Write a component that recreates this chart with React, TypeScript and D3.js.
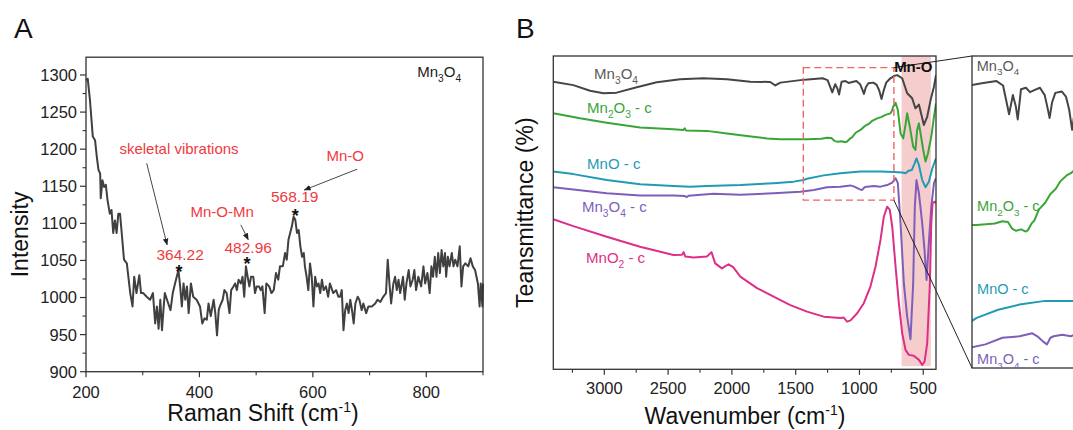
import React from "react";
import * as d3 from "d3";

// ---------- Panel A data: Raman spectrum of Mn3O4 ----------
const ramanSpectrum: [number, number][] = [
  [200,1293],[203,1295],[207,1266],[212,1217],[216,1212],[219,1190],[222,1172],[225,1167],[226,1134],[229,1158],
  [232,1149],[235,1152],[238,1131],[242,1113],[245,1118],[248,1087],[251,1104],[254,1087],[257,1113],[260,1113],
  [263,1087],[267,1051],[272,1046],[278,1006],[282,988],[285,1028],[289,1006],[294,1030],[297,1006],[301,1006],
  [307,1001],[313,997],[318,1006],[322,965],[325,988],[328,958],[331,997],[334,956],[337,988],[339,1006],
  [345,992],[349,983],[353,1006],[357,1019],[363,1037],[366,1015],[369,988],[372,1019],[375,997],[378,1015],
  [381,979],[385,1019],[389,1001],[395,997],[401,988],[405,965],[409,972],[413,970],[416,992],[420,975],
  [425,997],[428,979],[431,949],[434,983],[436,988],[441,997],[444,1010],[448,1006],[453,979],[456,1010],
  [460,1015],[463,1019],[466,1010],[469,1024],[473,1019],[476,1028],[479,1001],[482,1042],[485,1028],[488,1015],
  [491,1028],[495,1028],[498,1006],[501,1015],[505,1015],[508,1010],[511,1015],[515,979],[518,1019],[523,1015],
  [527,1006],[531,1010],[535,1033],[539,1024],[542,1042],[547,1042],[551,1060],[554,1051],[557,1078],[560,1087],
  [563,1096],[566,1109],[569,1105],[572,1087],[575,1091],[578,1069],[581,1055],[584,1060],[586,1042],[589,1028],
  [592,1010],[595,1046],[598,1028],[601,988],[604,1028],[607,1015],[610,1019],[613,1006],[616,1024],[619,1010],
  [623,1015],[627,1001],[630,1019],[636,1006],[641,1010],[645,1001],[648,1001],[651,1010],[654,956],[657,983],
  [660,992],[663,979],[666,997],[669,983],[672,965],[675,992],[679,1001],[682,997],[686,983],[689,992],
  [694,979],[698,988],[704,988],[710,992],[714,997],[719,994],[724,1001],[729,1006],[732,1051],[735,1019],
  [738,992],[742,1019],[745,1028],[748,1010],[751,1024],[754,1006],[759,1028],[762,997],[765,1019],[769,1037],
  [772,1015],[776,1024],[779,1037],[782,1010],[786,1028],[791,1015],[795,1042],[798,1019],[802,1033],[806,1006],
  [809,1042],[812,1028],[815,1055],[818,1028],[821,1060],[824,1033],[827,1064],[830,1042],[833,1060],[835,1028],
  [838,1055],[841,1042],[845,1060],[848,1042],[851,1051],[855,1042],[859,1069],[862,1015],[865,1042],[869,1046],
  [874,1042],[878,1053],[882,1042],[886,1037],[891,1019],[894,988],[896,1019],[899,988],[900,1019],
];
const ramanXTicks = [200, 400, 600, 800];
const ramanXMinor = [300, 500, 700];
const ramanYTicks = [900, 950, 1000, 1050, 1100, 1150, 1200, 1250, 1300];
const ramanYMinor = [925, 975, 1025, 1075, 1125, 1175, 1225, 1275];

// annotations: [label, x, y(baseline)]
const ramanPeaks: [string, number, number][] = [
  ["364.22", 366, 1051],
  ["482.96", 486, 1060],
  ["568.19", 568, 1129],
];
const ramanStars: [number, number][] = [[364, 1040], [484, 1050], [569, 1115]];
const ramanNotes: [string, number, number][] = [
  ["skeletal vibrations", 364, 1194],
  ["Mn-O-Mn", 440, 1108],
  ["Mn-O", 657, 1184],
];
const ramanArrows: [number, number, number, number][] = [
  [307, 1181, 343, 1071],
  [473, 1098, 486, 1078],
  [678, 1173, 585, 1145],
];

// ---------- Panel B data: FTIR spectra (wavenumber, transmittance a.u.) ----------
const ftirMn3O4: [number, number][] = [
  [3400,91.8],[3243,90.7],[3112,88.9],[3007,88.1],[2903,88.3],[2746,90.0],[2589,91.6],[2405,92.6],[2222,92.9],
  [2039,92.6],[1856,91.8],[1699,91.7],[1660,90.6],[1620,91.5],[1463,92.3],[1380,92.6],[1290,92.9],[1250,92.3],
  [1228,90.0],[1213,88.4],[1190,91.0],[1172,89.5],[1160,87.7],[1140,91.8],[1110,92.0],[1085,91.4],[1055,91.7],
  [1024,92.0],[995,91.0],[975,89.0],[965,87.9],[950,90.0],[930,91.3],[891,91.5],[865,90.8],[845,89.0],
  [827,86.3],[810,89.0],[790,91.5],[760,92.8],[730,93.6],[704,93.9],[665,92.9],[626,88.1],[587,86.5],
  [561,83.3],[534,84.5],[495,78.0],[469,80.6],[442,86.0],[416,90.2],[400,93.9],
];
const ftirMn2O3c: [number, number][] = [
  [3400,81.7],[3191,80.1],[2981,78.7],[2720,77.2],[2458,76.6],[2380,76.4],[2370,76.9],[2360,76.2],[2196,76.1],
  [2039,75.3],[1882,74.5],[1725,73.7],[1620,73.4],[1411,73.4],[1300,73.6],[1254,73.9],[1220,73.8],[1195,72.9],
  [1170,72.6],[1140,72.8],[1110,72.5],[1097,72.7],[1075,73.6],[1058,74.0],[1030,75.5],[992,76.4],[960,77.6],
  [927,78.3],[900,79.3],[861,80.1],[830,80.5],[796,81.2],[757,81.7],[745,82.5],[736,83.8],[717,85.1],[699,82.8],
  [678,75.3],[657,73.7],[639,78.0],[626,81.7],[605,77.4],[579,71.1],[561,70.0],[548,76.4],[534,78.5],[521,75.3],
  [500,70.0],[482,66.3],[463,68.9],[437,74.3],[416,80.6],[400,84.9],
];
const ftirMnOc: [number, number][] = [
  [3400,63.1],[3243,62.3],[2981,60.4],[2720,59.1],[2458,58.5],[2327,58.3],[2196,58.5],[1934,58.8],[1673,59.4],
  [1516,59.9],[1440,60.4],[1411,60.8],[1280,61.9],[1149,62.6],[992,63.1],[835,63.1],[730,63.0],[665,62.8],
  [639,62.6],[613,63.4],[590,63.6],[570,65.5],[553,67.3],[534,65.2],[508,60.4],[482,58.1],[456,59.9],[429,64.1],
  [400,67.3],
];
const ftirMn3O4c: [number, number][] = [
  [3400,58.1],[3243,57.4],[2981,56.2],[2720,55.5],[2458,55.5],[2370,55.3],[2353,55.0],[2340,55.4],[2144,56.0],
  [1934,55.7],[1673,56.2],[1463,56.7],[1358,57.2],[1254,58.1],[1149,58.3],[1071,58.7],[1040,58.3],[1000,57.5],
  [981,57.2],[960,58.1],[940,58.3],[887,58.5],[835,58.3],[783,58.8],[743,59.6],[717,61.0],[699,59.4],[678,46.6],
  [652,27.4],[626,16.8],[600,9.6],[579,27.4],[566,51.9],[553,60.4],[534,56.2],[508,46.6],[490,38.1],[474,28.5],
  [456,40.4],[437,51.9],[416,59.4],[400,61.0],
];
const ftirMnO2c: [number, number][] = [
  [3400,47.9],[3243,45.7],[2981,42.3],[2720,39.1],[2458,36.5],[2390,36.6],[2379,37.4],[2365,36.0],[2301,35.7],
  [2196,36.0],[2160,37.4],[2131,33.8],[2078,32.2],[2040,33.2],[2026,33.5],[1990,32.6],[1934,29.6],[1803,25.9],
  [1673,23.2],[1542,20.5],[1411,18.4],[1280,16.8],[1150,16.4],[1123,16.5],[1097,15.2],[1070,15.6],[1018,17.9],
  [966,21.1],[914,26.4],[874,32.8],[835,41.3],[809,48.7],[783,51.9],[762,50.9],[743,45.5],[717,32.8],[691,21.1],
  [665,11.5],[639,6.2],[613,4.6],[574,4.3],[534,3.0],[508,1.4],[490,2.4],[469,8.3],[448,27.4],[437,46.6],
  [427,53.0],[410,53.5],[400,53.0],
];
const ftirSeriesNames = ["Mn3O4", "Mn2O3 - c", "MnO - c", "Mn3O4 - c", "MnO2 - c"];
const ftirColors = ["#454545", "#3aa537", "#1f9bb5", "#7d5fba", "#dd2f88"];
const ftirLabelColors = ["#5a5a5a", "#3aa537", "#1f9bb5", "#7d5fba", "#dd2f88"];
// label anchor positions [wavenumber, transmittance baseline]
const ftirLabelPos: [number, number][] = [[3080, 92.7], [3135, 81.8], [3135, 63.9], [3175, 50.2], [3143, 33.9]];
const insetLabelPos: [number, number][] = [[1411, 94.3], [1409, 75.3], [1409, 64.0], [1409, 54.5]];
const ftirXTicks = [3000, 2500, 2000, 1500, 1000, 500];
const ftirXMinor = [3250, 2750, 2250, 1750, 1250, 750];
const zoomWindow = { x0: 1440, x1: 730, y0: 54, y1: 96.3 };
const mnOBand = { x0: 670, x1: 440 };

const FONT = "'Liberation Sans', Arial, Helvetica, sans-serif";

function chem(label: string, fs: number) {
  const parts = label.match(/\d+|[^\d]+/g) || [];
  let sub = false;
  return parts.map((p, i) => {
    const isNum = /^\d+$/.test(p);
    const dy = isNum ? (sub ? 0 : fs * 0.32) : sub ? -fs * 0.32 : 0;
    sub = isNum;
    return (
      <tspan key={i} dy={dy} fontSize={isNum ? fs * 0.68 : fs}>
        {p}
      </tspan>
    );
  });
}

export default function App() {
  const W = 1073, H = 430;
  // Panel A scales
  const xA = d3.scaleLinear().domain([200, 900]).range([86, 483]);
  const yA = d3.scaleLinear().domain([900, 1300]).range([371.7, 75]);
  const aTop = yA(1324);
  const aBot = yA(900);
  const lineA = d3.line<[number, number]>().x((d) => xA(d[0])).y((d) => yA(d[1]));

  // Panel B scales
  const xB = d3.scaleLinear().domain([3400, 400]).range([553.3, 936]);
  const yB = d3.scaleLinear().domain([0, 100]).range([369.3, 56]);
  const lineB = d3.line<[number, number]>().x((d) => xB(d[0])).y((d) => yB(d[1]));

  // Inset scales
  const xI = d3.scaleLinear().domain([zoomWindow.x0, zoomWindow.x1]).range([972, 1088]);
  const yI = d3.scaleLinear().domain([zoomWindow.y0, zoomWindow.y1]).range([368, 56]);
  const lineI = d3.line<[number, number]>().x((d) => xI(d[0])).y((d) => yI(d[1]));

  const ftirAll = [ftirMn3O4, ftirMn2O3c, ftirMnOc, ftirMn3O4c, ftirMnO2c];
  const red = "#f03a3e";
  const axisColor = "#333";

  const bx0 = xB(3400), bx1 = xB(400), by0 = yB(100), by1 = yB(0);
  const dbx0 = xB(zoomWindow.x0), dbx1 = xB(zoomWindow.x1), dby0 = yB(zoomWindow.y1), dby1 = yB(zoomWindow.y0);
  const ix0 = xI(zoomWindow.x0), iy0 = yI(zoomWindow.y1), iy1 = yI(zoomWindow.y0);

  return (
    <svg
      width={W}
      height={H}
      style={{ position: "absolute", left: 0, top: 0, background: "#fff" }}
      fontFamily={FONT}
    >
      <defs>
        <marker id="arrowHead" viewBox="0 0 10 10" refX="9" refY="5" markerWidth="7" markerHeight="7"
          markerUnits="userSpaceOnUse" orient="auto">
          <path d="M0,1 L10,5 L0,9 z" fill="#222" />
        </marker>
        <clipPath id="clipB">
          <rect x={bx0} y={by0} width={bx1 - bx0} height={by1 - by0} />
        </clipPath>
        <clipPath id="clipI">
          <rect x={ix0} y={iy0} width={200} height={iy1 - iy0} />
        </clipPath>
      </defs>
      <rect width={W} height={H} fill="#fff" />

      {/* ================= Panel A ================= */}
      <text x={14} y={38} fontSize={28} fill="#111">A</text>
      <path d={lineA(ramanSpectrum) || ""} fill="none" stroke="#404040" strokeWidth={2} strokeLinejoin="round" />
      <rect x={xA(200)} y={aTop} width={xA(900) - xA(200)} height={aBot - aTop} fill="none" stroke={axisColor} strokeWidth={1.3} />
      {ramanYTicks.map((t) => (
        <g key={"ay" + t}>
          <line x1={xA(200) - 6} x2={xA(200)} y1={yA(t)} y2={yA(t)} stroke={axisColor} strokeWidth={1.2} />
          <text x={xA(200) - 9} y={yA(t)} dy="0.36em" textAnchor="end" fontSize={16.5} fill="#222">{t}</text>
        </g>
      ))}
      {ramanYMinor.map((t) => (
        <line key={"aym" + t} x1={xA(200) - 3.5} x2={xA(200)} y1={yA(t)} y2={yA(t)} stroke={axisColor} strokeWidth={1.1} />
      ))}
      {ramanXTicks.map((t) => (
        <g key={"ax" + t}>
          <line x1={xA(t)} x2={xA(t)} y1={aBot} y2={aBot + 5.5} stroke={axisColor} strokeWidth={1.2} />
          <text x={xA(t)} y={aBot + 26} textAnchor="middle" fontSize={16.5} fill="#222">{t}</text>
        </g>
      ))}
      {[...ramanXMinor, 900].map((t) => (
        <line key={"axm" + t} x1={xA(t)} x2={xA(t)} y1={aBot} y2={aBot + 3.5} stroke={axisColor} strokeWidth={1.1} />
      ))}
      <text x={263} y={421} textAnchor="middle" fontSize={23} fill="#111">
        <tspan>Raman Shift (cm</tspan>
        <tspan dy={-9} fontSize={14}>-1</tspan>
        <tspan dy={9}>)</tspan>
      </text>
      <text transform={`translate(28,${(aTop + aBot) / 2 + 20}) rotate(-90)`} textAnchor="middle" fontSize={23} fill="#111">
        Intensity
      </text>
      <text x={xA(784)} y={yA(1297)} fontSize={15} fill="#222">{chem("Mn3O4", 15)}</text>
      {ramanArrows.map((a, i) => (
        <line key={"arr" + i} x1={xA(a[0])} y1={yA(a[1])} x2={xA(a[2])} y2={yA(a[3])} stroke="#333" strokeWidth={0.9}
          markerEnd="url(#arrowHead)" />
      ))}
      {ramanNotes.map((n) => (
        <text key={n[0]} x={xA(n[1])} y={yA(n[2])} textAnchor="middle" fontSize={15} fill={red}>{n[0]}</text>
      ))}
      {ramanPeaks.map((n) => (
        <text key={n[0]} x={xA(n[1])} y={yA(n[2])} textAnchor="middle" fontSize={15.5} fill={red}>{n[0]}</text>
      ))}
      {ramanStars.map((s, i) => (
        <text key={"st" + i} x={xA(s[0])} y={yA(s[1]) + 10} textAnchor="middle" fontSize={18} fontWeight="bold" fill="#111">*</text>
      ))}

      {/* ================= Panel B ================= */}
      <text x={516} y={38} fontSize={28} fill="#111">B</text>
      <rect x={xB(mnOBand.x0)} y={by0} width={xB(mnOBand.x1) - xB(mnOBand.x0)} height={yB(1) - by0} fill="#f4c4c4" opacity={0.85} />
      <g clipPath="url(#clipB)">
        {ftirAll.map((s, i) => (
          <path key={"b" + i} d={lineB(s) || ""} fill="none" stroke={ftirColors[i]} strokeWidth={2} strokeLinejoin="round" />
        ))}
      </g>
      <rect x={dbx0} y={dby0} width={dbx1 - dbx0} height={dby1 - dby0} fill="none" stroke="#f06464" strokeWidth={1.4} strokeDasharray="7,4" />
      {/* connectors */}
      <line x1={dbx1} y1={dby0} x2={ix0} y2={iy0} stroke="#222" strokeWidth={1} />
      <line x1={dbx1} y1={dby1} x2={ix0} y2={iy1} stroke="#222" strokeWidth={1} />
      <text x={xB(578)} y={yB(94.9)} textAnchor="middle" fontSize={15} fontWeight="bold" fill="#111">Mn-O</text>
      <rect x={bx0} y={by0} width={bx1 - bx0} height={by1 - by0} fill="none" stroke={axisColor} strokeWidth={1.3} />
      {ftirXTicks.map((t) => (
        <g key={"bx" + t}>
          <line x1={xB(t)} x2={xB(t)} y1={by1} y2={by1 + 5.5} stroke={axisColor} strokeWidth={1.2} />
          <text x={xB(t)} y={by1 + 25} textAnchor="middle" fontSize={16.5} fill="#222">{t}</text>
        </g>
      ))}
      {ftirXMinor.map((t) => (
        <line key={"bxm" + t} x1={xB(t)} x2={xB(t)} y1={by1} y2={by1 + 3.5} stroke={axisColor} strokeWidth={1.1} />
      ))}
      {ftirSeriesNames.map((n, i) => (
        <text key={"bl" + i} x={xB(ftirLabelPos[i][0])} y={yB(ftirLabelPos[i][1])} fontSize={15} fill={ftirLabelColors[i]}>
          {chem(n, 15)}
        </text>
      ))}
      <text x={745} y={424} textAnchor="middle" fontSize={23} fill="#111">
        <tspan>Wavenumber (cm</tspan>
        <tspan dy={-9} fontSize={14}>-1</tspan>
        <tspan dy={9}>)</tspan>
      </text>
      <text transform={`translate(533,${(by0 + by1) / 2}) rotate(-90)`} textAnchor="middle" fontSize={23} fill="#111">
        Teansmittance (%)
      </text>

      {/* ================= Inset ================= */}
      <g clipPath="url(#clipI)">
        {ftirAll.map((s, i) => (
          <path key={"i" + i} d={lineI(s) || ""} fill="none" stroke={ftirColors[i]} strokeWidth={2} strokeLinejoin="round" />
        ))}
      </g>
      <rect x={ix0} y={iy0} width={200} height={iy1 - iy0} fill="none" stroke={axisColor} strokeWidth={1.3} />
      {ftirSeriesNames.slice(0, 4).map((n, i) => (
        <text key={"il" + i} x={xI(insetLabelPos[i][0])} y={yI(insetLabelPos[i][1])} fontSize={14.5} fill={ftirLabelColors[i]}>
          {chem(n, 14.5)}
        </text>
      ))}
    </svg>
  );
}
